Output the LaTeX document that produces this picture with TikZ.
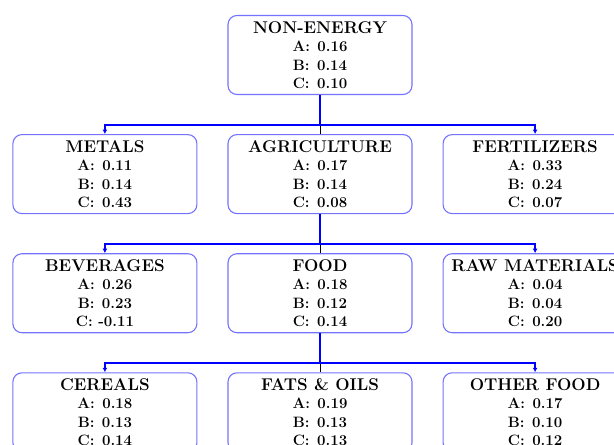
\documentclass[tikz,border=0pt]{standalone}
\usetikzlibrary{positioning,arrows.meta}
\tikzset{group/.style = {draw=blue!55, rounded corners=9pt, line width=1.1pt, minimum width=184pt, minimum height=79pt, align=center, font=\fontsize{15}{18.5}\selectfont\bfseries}}
\tikzset{link/.style = {draw=blue, line width=2pt}}
\tikzset{drop/.style = {link, -{Latex[length=4.5pt, width=5pt]}}}
\tikzset{stub/.style = {draw=black, line width=0.8pt}}
\newcommand{\heading}[1]{{\fontsize{17}{18.5}\selectfont #1}}

\begin{document}
\begin{tikzpicture}[node distance=39pt and 30pt]
  \useasboundingbox (0,0) rectangle (614pt,-445pt);
  \node [group] (nonenergy) at (320pt,-55pt) {\heading{NON-ENERGY}\\ A:\enspace 0.16\\ B:\enspace 0.14\\ C:\enspace 0.10};
  \node [group, below=of nonenergy] (agri) {\heading{AGRICULTURE}\\ A:\enspace 0.17\\ B:\enspace 0.14\\ C:\enspace 0.08};
  \node [group, left=of agri] (metals) {\heading{METALS}\\ A:\enspace 0.11\\ B:\enspace 0.14\\ C:\enspace 0.43};
  \node [group, right=of agri] (fert) {\heading{FERTILIZERS}\\ A:\enspace 0.33\\ B:\enspace 0.24\\ C:\enspace 0.07};
  \node [group, below=of agri] (food) {\heading{FOOD}\\ A:\enspace 0.18\\ B:\enspace 0.12\\ C:\enspace 0.14};
  \node [group, left=of food] (bev) {\heading{BEVERAGES}\\ A:\enspace 0.26\\ B:\enspace 0.23\\ C: -0.11};
  \node [group, right=of food] (raw) {\heading{RAW MATERIALS}\\ A:\enspace 0.04\\ B:\enspace 0.04\\ C:\enspace 0.20};
  \node [group, below=of food] (fats) {\heading{FATS \& OILS}\\ A:\enspace 0.19\\ B:\enspace 0.13\\ C:\enspace 0.13};
  \node [group, left=of fats] (cereals) {\heading{CEREALS}\\ A:\enspace 0.18\\ B:\enspace 0.13\\ C:\enspace 0.14};
  \node [group, right=of fats] (other) {\heading{OTHER FOOD}\\ A:\enspace 0.17\\ B:\enspace 0.10\\ C:\enspace 0.12};

  % buses
  \coordinate [above=9pt of agri.north] (bus1);
  \coordinate [above=9pt of food.north] (bus2);
  \coordinate [above=9pt of fats.north] (bus3);

  \draw [stub] (bus1) -- (agri.north);
  \draw [stub] (bus2) -- (food.north);
  \draw [stub] (bus3) -- (fats.north);

  \draw [link] (nonenergy.south) -- (bus1);
  \draw [drop] (bus1) -| (metals.north);
  \draw [drop] (bus1) -| (fert.north);
  \draw [link] (agri.south) -- (bus2);
  \draw [drop] (bus2) -| (bev.north);
  \draw [drop] (bus2) -| (raw.north);
  \draw [link] (food.south) -- (bus3);
  \draw [drop] (bus3) -| (cereals.north);
  \draw [drop] (bus3) -| (other.north);
\end{tikzpicture}
\end{document}
